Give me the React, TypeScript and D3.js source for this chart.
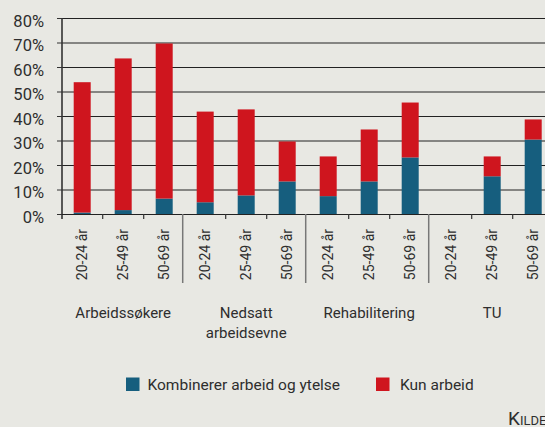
import React from "react";
import * as d3 from "d3";

const groupLabels: string[][] = [["Arbeidssøkere"], ["Nedsatt", "arbeidsevne"], ["Rehabilitering"], ["TU"]];
const ageLabels = ["20-24 år", "25-49 år", "50-69 år"];
const kombinerer = [0.8, 1.8, 6.5, 5.0, 7.8, 13.5, 7.5, 13.5, 23.3, 0, 15.6, 30.6];
const kunArbeid = [53.2, 61.9, 63.3, 37.0, 35.1, 16.3, 16.2, 21.2, 22.4, 0, 8.1, 8.2];
const yTicks = [0, 10, 20, 30, 40, 50, 60, 70, 80];
const legendLabels = ["Kombinerer arbeid og ytelse", "Kun arbeid"];

const W = 545, H = 427;
const BG = "#e8e8e3";
const BLUE = "#165e7e";
const RED = "#cf151e";
const TXT = "#2e2e2e";
const FONT = "Roboto, 'Noto Sans', sans-serif";

export default function App() {
  const cats = groupLabels.flatMap((_, g) => ageLabels.map((_, a) => g * 3 + a));
  const x = d3.scaleBand<number>().domain(cats).range([61.7, 61.7 + 41 * 12]).padding(0);
  const y = d3.scaleLinear().domain([0, 80]).range([214.5, 18.5]);
  const bw = x.bandwidth();
  const barW = 17;
  const stacked = d3.stack<number>().keys(["k", "r"]).value((i, key) => (key === "k" ? kombinerer[i] : kunArbeid[i]))(cats);
  const colors = [BLUE, RED];
  const step = x.step();
  const x0 = x(0)!;

  return (
    <svg width={W} height={H} style={{ position: "absolute", left: 0, top: 0 }} fontFamily={FONT}>
      <rect width={W} height={H} fill={BG} />
      {yTicks.slice(1).map((t) => (
        <line key={t} x1={62} x2={W + 20} y1={y(t)} y2={y(t)} stroke="#222" strokeWidth={1} />
      ))}
      {yTicks.map((t) => (
        <g key={"yt" + t}>
          <line x1={57} x2={62} y1={y(t)} y2={y(t)} stroke="#333" strokeWidth={1} />
          <text x={44} y={y(t) + 8} textAnchor="end" fontSize={16.5} fill={TXT}>
            {t}%
          </text>
        </g>
      ))}
      {stacked.map((layer, li) =>
        layer.map((d, i) =>
          d[1] - d[0] > 0 ? (
            <rect
              key={li + "-" + i}
              x={x(cats[i])! + (bw - barW) / 2}
              width={barW}
              y={y(d[1])}
              height={y(d[0]) - y(d[1])}
              fill={colors[li]}
            />
          ) : null
        )
      )}
      <line x1={62} x2={62} y1={18} y2={219} stroke="#333" strokeWidth={1.6} />
      <line x1={62} x2={W + 20} y1={y(0)} y2={y(0)} stroke="#222" strokeWidth={1} />
      {cats.slice(1).map((c) =>
        c % 3 !== 0 ? (
          <line key={"mt" + c} x1={x(c)!} x2={x(c)!} y1={214} y2={219} stroke="#333" strokeWidth={1.2} />
        ) : (
          <line key={"sep" + c} x1={x(c)! - 2} x2={x(c)! - 2} y1={214} y2={283} stroke="#777" strokeWidth={1.5} />
        )
      )}
      {cats.map((c) => {
        const cx = x(c)! + bw / 2 + 4.5;
        return (
          <text key={"al" + c} transform={`translate(${cx},229) rotate(-90)`} textAnchor="end" fontSize={14} fill={TXT}>
            {ageLabels[c % 3]}
          </text>
        );
      })}
      {groupLabels.map((lines, g) => {
        const cx = x0 + step * (g * 3 + 1.5);
        return (
          <text key={"g" + g} x={cx} y={317.5} textAnchor="middle" fontSize={15} fill={TXT}>
            {lines.map((l, li) => (
              <tspan key={li} x={cx} dy={li === 0 ? 0 : 20}>
                {l}
              </tspan>
            ))}
          </text>
        );
      })}
      <g>
        <rect x={126} y={377.5} width={13.5} height={13.5} fill={BLUE} />
        <text x={147.5} y={390} fontSize={15.5} fill={TXT}>{legendLabels[0]}</text>
        <rect x={376} y={377.5} width={13.5} height={13.5} fill={RED} />
        <text x={400} y={390} fontSize={15.5} fill={TXT}>{legendLabels[1]}</text>
      </g>
      <text x={508} y={425} fill={TXT}>
        <tspan fontSize={19}>K</tspan>
        <tspan fontSize={13}>ILDE</tspan>
      </text>
    </svg>
  );
}
